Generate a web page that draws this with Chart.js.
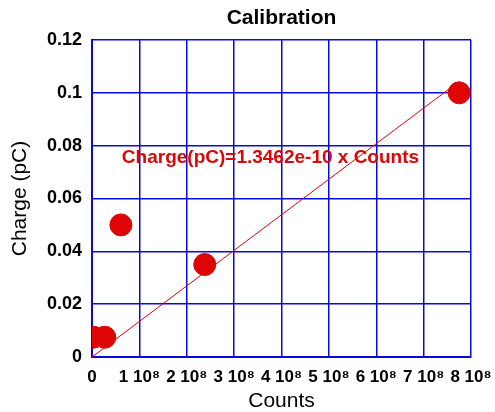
<!DOCTYPE html>
<html>
<head>
<meta charset="utf-8">
<script src="https://cdn.jsdelivr.net/npm/chart.js@4/dist/chart.umd.min.js"></script>
<style>
    html, body { margin: 0; padding: 0; background: #fff; }
    #wrap { width: 495px; height: 412px; }
</style>
</head>
<body>
<div id="wrap"><canvas id="calChart" width="495" height="412"></canvas></div>
<script>
const counts = [3e6, 2.7e7, 6.1e7, 2.38e8, 7.75e8];
const charges = [0.0075, 0.0075, 0.05, 0.035, 0.1];
const xTicks = ["0", "1 10⁸", "2 10⁸", "3 10⁸", "4 10⁸", "5 10⁸", "6 10⁸", "7 10⁸", "8 10⁸"];
const yTicks = ["0", "0.02", "0.04", "0.06", "0.08", "0.1", "0.12"];
const fitSlope = 1.3462e-10;
const fitLabel = "Charge(pC)=1.3462e-10 x Counts";
const chartTitle = "Calibration";

const blue = "#0a0ad8";
const red = "#dd0505";
const font = "'Liberation Sans', Arial, sans-serif";

const points = counts.map((c, i) => ({ x: c, y: charges[i] }));
const fitEnd = counts[counts.length - 1];
const fitLine = [{ x: 0, y: 0 }, { x: fitEnd, y: fitSlope * fitEnd }];

// title centred over the plot area, plus the fit equation inside it
const annotations = {
    id: "annotations",
    afterDatasetsDraw(chart) {
        const { ctx, scales, chartArea } = chart;
        ctx.save();
        ctx.textBaseline = "middle";

        ctx.font = "bold 21px " + font;
        ctx.fillStyle = "#000";
        ctx.textAlign = "center";
        ctx.fillText(chartTitle, (chartArea.left + chartArea.right) / 2, 18);

        ctx.font = "bold 19px " + font;
        ctx.fillStyle = red;
        ctx.textAlign = "left";
        ctx.fillText(fitLabel, scales.x.getPixelForValue(0.63e8), scales.y.getPixelForValue(0.0755));
        ctx.restore();
    },
};

new Chart(document.getElementById("calChart"), {
    type: "scatter",
    data: {
        datasets: [
            {
                type: "line",
                data: fitLine,
                borderColor: red,
                borderWidth: 1,
                pointRadius: 0,
                fill: false,
                order: 2,
            },
            {
                data: points,
                backgroundColor: red,
                borderColor: red,
                pointRadius: 11,
                pointHoverRadius: 11,
                order: 1,
            },
        ],
    },
    options: {
        responsive: false,
        animation: false,
        layout: { padding: { left: 0, right: 0, top: 40, bottom: 0 } },
        plugins: {
            legend: { display: false },
            tooltip: { enabled: false },
            title: { display: false },
        },
        scales: {
            x: {
                type: "linear",
                min: 0,
                max: 8e8,
                afterFit: (s) => {
                    s.height = 55;
                    s.paddingLeft = 0;
                    s.paddingRight = 24;
                },
                ticks: {
                    stepSize: 1e8,
                    color: "#000",
                    font: { family: font, size: 17, weight: "bold" },
                    maxRotation: 0,
                    autoSkip: false,
                    padding: 10,
                    callback: (v) => xTicks[Math.round(v / 1e8)],
                },
                grid: { color: blue, lineWidth: 1.5, drawTicks: false },
                border: { color: blue, width: 2 },
                title: {
                    display: true,
                    text: "Counts",
                    color: "#000",
                    font: { family: font, size: 21 },
                    padding: { top: 0, bottom: -2 },
                },
            },
            y: {
                min: 0,
                max: 0.12,
                afterFit: (s) => { s.width = 92; },
                ticks: {
                    stepSize: 0.02,
                    color: "#000",
                    font: { family: font, size: 18, weight: "bold" },
                    padding: 10,
                    callback: (v) => yTicks[Math.round(v / 0.02)],
                },
                grid: { color: blue, lineWidth: 1.5, drawTicks: false },
                border: { color: blue, width: 2 },
                title: {
                    display: true,
                    text: "Charge (pC)",
                    color: "#000",
                    font: { family: font, size: 21 },
                    padding: { top: 8, bottom: 0 },
                },
            },
        },
    },
    plugins: [annotations],
});
</script>
</body>
</html>
